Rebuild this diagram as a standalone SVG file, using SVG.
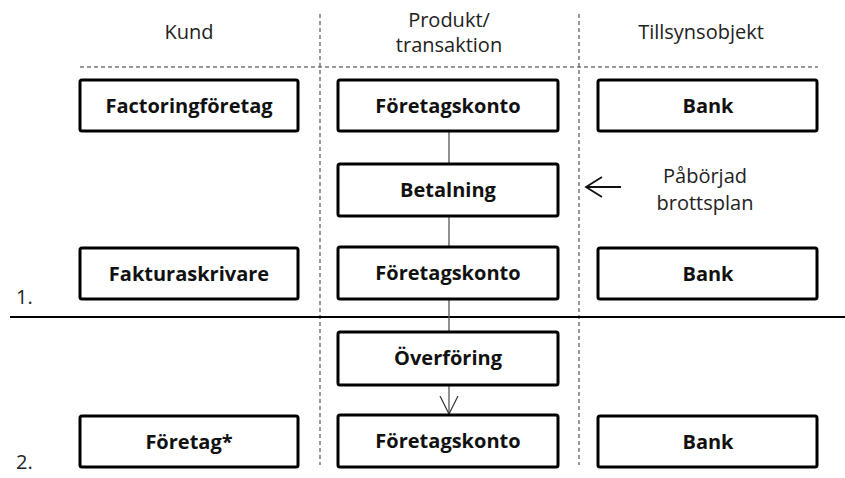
<svg xmlns="http://www.w3.org/2000/svg" width="845" height="478" viewBox="0 0 845 478">
<style>
.box{fill:#fff;stroke:#000;stroke-width:3;}
.lbl{font-family:"Open Sans","Liberation Sans",sans-serif;font-weight:bold;font-size:20px;text-anchor:middle;fill:#111;}
.hdr{font-family:"Open Sans","Liberation Sans",sans-serif;font-size:20px;text-anchor:middle;fill:#222;}
.num{font-family:"Open Sans","Liberation Sans",sans-serif;font-size:20px;fill:#222;}
.dash{stroke:#333;stroke-width:1;stroke-dasharray:4,3;fill:none;}
.conn{stroke:#555;stroke-width:1.3;fill:none;}
</style>
<defs>
<marker id="arr" markerWidth="22" markerHeight="22" refX="18" refY="11" orient="auto" markerUnits="userSpaceOnUse">
<path d="M0,2 L18,11 L0,20" fill="none" stroke="#333" stroke-width="1.2"/>
</marker>
</defs>
<rect width="845" height="478" fill="#fff"/>
<g id="grid">
<line class="dash" x1="320" y1="14" x2="320" y2="465"/>
<line class="dash" x1="579" y1="14" x2="579" y2="465"/>
<line class="dash" x1="80" y1="67" x2="818" y2="67"/>
<line x1="10" y1="317" x2="845" y2="317" stroke="#000" stroke-width="2"/>
</g>
<g id="headers">
<text class="hdr" x="189" y="39">Kund</text>
<text class="hdr" x="449" y="27">Produkt/</text>
<text class="hdr" x="449" y="52">transaktion</text>
<text class="hdr" x="701" y="39">Tillsynsobjekt</text>
</g>
<g id="connectors">
<line class="conn" x1="449" y1="131" x2="449" y2="164"/>
<line class="conn" x1="449" y1="216" x2="449" y2="247"/>
<line class="conn" x1="449" y1="299" x2="449" y2="332"/>
<line class="conn" x1="449" y1="385" x2="449" y2="414" marker-end="url(#arr)"/>
<path d="M621,187 L586,187 M602,177 L586,187 L602,197" fill="none" stroke="#111" stroke-width="1.8"/>
</g>
<g id="n1"><rect class="box" x="80" y="80" width="218" height="51" rx="2"/><text class="lbl" x="189" y="113">Factoringföretag</text></g>
<g id="n2"><rect class="box" x="338" y="80" width="220" height="51" rx="2"/><text class="lbl" x="448" y="113">Företagskonto</text></g>
<g id="n3"><rect class="box" x="598" y="80" width="219" height="51" rx="2"/><text class="lbl" x="708" y="113">Bank</text></g>
<g id="n4"><rect class="box" x="338" y="164" width="220" height="52" rx="2"/><text class="lbl" x="448" y="197">Betalning</text></g>
<g id="note"><text class="hdr" x="705" y="183">Påbörjad</text><text class="hdr" x="705" y="210">brottsplan</text></g>
<g id="n5"><rect class="box" x="80" y="248" width="218" height="51" rx="2"/><text class="lbl" x="189" y="281">Fakturaskrivare</text></g>
<g id="n6"><rect class="box" x="338" y="247" width="220" height="52" rx="2"/><text class="lbl" x="448" y="280">Företagskonto</text></g>
<g id="n7"><rect class="box" x="598" y="248" width="219" height="51" rx="2"/><text class="lbl" x="708" y="281">Bank</text></g>
<g id="n8"><rect class="box" x="338" y="332" width="220" height="53" rx="2"/><text class="lbl" x="448" y="365">Överföring</text></g>
<g id="n9"><rect class="box" x="80" y="416" width="218" height="51" rx="2"/><text class="lbl" x="189" y="449">Företag*</text></g>
<g id="n10"><rect class="box" x="338" y="415" width="220" height="52" rx="2"/><text class="lbl" x="448" y="448">Företagskonto</text></g>
<g id="n11"><rect class="box" x="598" y="416" width="219" height="51" rx="2"/><text class="lbl" x="708" y="449">Bank</text></g>
<g id="nums"><text class="num" x="16" y="304">1.</text><text class="num" x="16" y="469">2.</text></g>
</svg>
